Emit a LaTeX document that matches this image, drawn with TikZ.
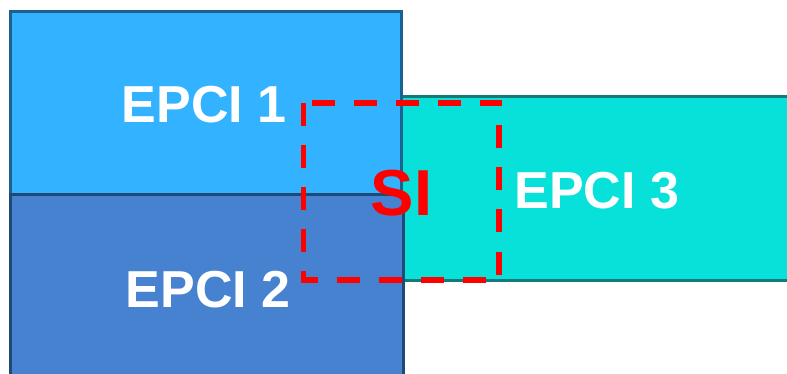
\documentclass[tikz,border=0pt]{standalone}
\usepackage{fontspec}
\setmainfont{Liberation Sans}
\definecolor{eonefill}{HTML}{33B3FF}
\definecolor{eoneline}{HTML}{1C6290}
\definecolor{etwofill}{HTML}{4682D0}
\definecolor{etwoline}{HTML}{1F4A78}
\definecolor{ethreefill}{HTML}{08E0DA}
\definecolor{ethreeline}{HTML}{137A7A}
\begin{document}
\begin{tikzpicture}[x=1pt,y=-1pt,
  box/.style={line width=3pt},
  lbl/.style={text=white,font=\bfseries\fontsize{52}{52}\selectfont,anchor=base,inner sep=0pt},
  silbl/.style={text=red,font=\bfseries\fontsize{65}{65}\selectfont,anchor=base,inner sep=0pt},
  zone/.style={draw=red,line width=5.5pt,dash pattern=on 23pt off 19pt}]
\useasboundingbox (0,0) rectangle (787,374);
\fill[white] (0,0) rectangle (787,374);
\draw[box,fill=ethreefill,draw=ethreeline] (401.5,97) rectangle (800,280.5);
\draw[box,fill=eonefill,draw=eoneline] (10.5,11.5) rectangle (401,195);
\draw[box,fill=etwofill,draw=etwoline] (10.5,195) rectangle (403.5,390);
\node[lbl] (e1) at (204,122.3) {EPCI 1};
\node[lbl] (e2) at (208,307.3) {EPCI 2};
\node[lbl] (e3) at (596.7,208.3) {EPCI 3};
\draw[zone] (303.5,103) rectangle (499,280);
\node[silbl] (si) at (401.5,215.5) {SI};
\end{tikzpicture}
\end{document}
